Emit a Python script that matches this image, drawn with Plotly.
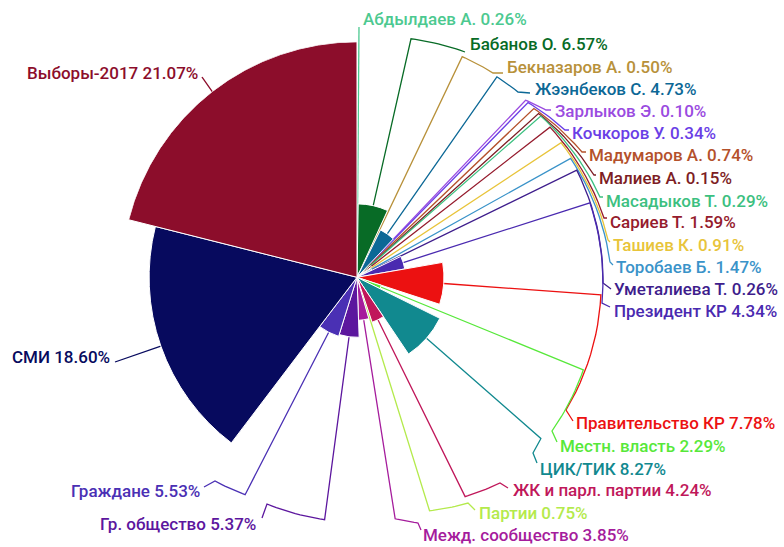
import math
import plotly.graph_objects as go

# share of mentions, clockwise from 12 o'clock
names = [
    "Абдылдаев А.", "Бабанов О.", "Бекназаров А.", "Жээнбеков С.",
    "Зарлыков Э.", "Кочкоров У.", "Мадумаров А.", "Малиев А.",
    "Масадыков Т.", "Сариев Т.", "Ташиев К.", "Торобаев Б.",
    "Уметалиева Т.", "Президент КР", "Правительство КР", "Местн. власть",
    "ЦИК/ТИК", "ЖК и парл. партии", "Партии", "Межд. сообщество",
    "Гр. общество", "Граждане", "СМИ", "Выборы-2017",
]
values = [
    0.26, 6.57, 0.50, 4.73,
    0.10, 0.34, 0.74, 0.15,
    0.29, 1.59, 0.91, 1.47,
    0.26, 4.34, 7.78, 2.29,
    8.27, 4.24, 0.75, 3.85,
    5.37, 5.53, 18.60, 21.07,
]
colors = [
    "#4cc990", "#086b26", "#b8913a", "#0c6896",
    "#9a4be0", "#6a3ee6", "#b4512b", "#7d1d24",
    "#3cc080", "#951b2d", "#e8c43a", "#3a93c9",
    "#3e1d8c", "#4a2ab0", "#ec1111", "#57e83a",
    "#11898f", "#c0175a", "#b4ea4c", "#a51c9c",
    "#5c169e", "#4a30b4", "#070a5e", "#8c0d2b",
]

# page geometry (pixels)
W, H = 784, 547
CX, CY = 357, 277.3
R_MAX = 235.5
R_LINE = 244.5

# label placement: (x, y, side) and leader line bend points
label_pos = [
    (361, 19, "l"), (468, 44, "l"), (505, 67, "l"), (533, 89, "l"),
    (553, 111, "l"), (570, 133, "l"), (587, 155, "l"), (597, 178, "l"),
    (604, 201, "l"), (608, 222, "l"), (611, 245, "l"), (614, 267, "l"),
    (612, 289, "l"), (612, 311, "l"), (574, 423, "l"), (558, 446, "l"),
    (538, 469, "l"), (511, 490, "l"), (477, 513, "l"), (421, 535, "l"),
    (258, 524, "r"), (202, 491, "r"), (112, 357, "r"), (200, 73, "r"),
]
bends = [
    [(359, 27)], [(465, 52)], [(493, 73), (503, 73)], [(518, 92), (530, 93)],
    [(546, 110), (551, 110)], [(565, 130), (569, 130)], [(582, 152), (586, 152)],
    [(594, 175), (596, 175)], [(600, 197), (603, 197)], [(604, 218), (607, 218)],
    [(608, 240), (610, 242)], [(610, 262), (613, 265)], [(603, 283), (611, 289)],
    [(602, 303), (610, 307)], [(566, 410), (573, 421)], [(552, 431), (557, 442)],
    [(533, 453), (537, 463)], [(500, 483), (508, 488)], [(468, 503), (475, 510)],
    [(418, 523), (421, 530)], [(267, 504), (262, 518)], [(215, 481), (204, 487)],
    [(115, 362)], [(202, 77)],
]


def to_px(r, ang):
    return CX + r * math.cos(math.radians(ang)), CY - r * math.sin(math.radians(ang))


def arc_points(p, q, n=12):
    # interpolate in polar coords so the line bends round the pie
    r1 = math.hypot(p[0] - CX, CY - p[1])
    a1 = math.degrees(math.atan2(CY - p[1], p[0] - CX))
    r2 = math.hypot(q[0] - CX, CY - q[1])
    a2 = math.degrees(math.atan2(CY - q[1], q[0] - CX))
    da = (a2 - a1 + 180) % 360 - 180
    return [to_px(r1 + (r2 - r1) * i / n, a1 + da * i / n) for i in range(1, n + 1)]


scale = R_MAX / max(values)
mids, widths = [], []
cum = 0
for v in values:
    mids.append((cum + v / 2) * 3.6)
    widths.append(v * 3.6)
    cum += v

fig = go.Figure()

fig.add_trace(go.Barpolar(
    r=values, theta=mids, width=widths,
    marker=dict(color=colors, line=dict(color="white", width=1)),
    text=names, hoverinfo="text+r", showlegend=False,
))

# leader lines
for i, v in enumerate(values):
    ang = 90 - mids[i]
    p1 = to_px(v * scale, ang)
    p2 = to_px(R_LINE, ang)
    pts = [p1, p2] + arc_points(p2, bends[i][0]) + bends[i][1:]
    fig.add_trace(go.Scatter(
        x=[p[0] for p in pts], y=[p[1] for p in pts],
        mode="lines", line=dict(color=colors[i], width=1.3),
        hoverinfo="skip", showlegend=False,
    ))

for i, v in enumerate(values):
    x, y, side = label_pos[i]
    fig.add_annotation(
        x=x, y=y, xref="x", yref="y",
        text=f"{names[i]} {v:.2f}%",
        showarrow=False,
        xanchor="left" if side == "l" else "right",
        yanchor="middle",
        font=dict(family="Roboto", size=17, color=colors[i], weight=500),
    )

fig.update_layout(
    width=W, height=H,
    margin=dict(l=0, r=0, t=0, b=0),
    paper_bgcolor="white", plot_bgcolor="rgba(0,0,0,0)",
    polar=dict(
        domain=dict(x=[(CX - R_MAX) / W, (CX + R_MAX) / W],
                    y=[(H - CY - R_MAX) / H, (H - CY + R_MAX) / H]),
        bgcolor="rgba(0,0,0,0)",
        bargap=0,
        radialaxis=dict(range=[0, max(values)], visible=False, showgrid=False),
        angularaxis=dict(rotation=90, direction="clockwise", visible=False, showgrid=False),
    ),
    xaxis=dict(range=[0, W], visible=False, domain=[0, 1], fixedrange=True),
    yaxis=dict(range=[H, 0], visible=False, domain=[0, 1], fixedrange=True),
)

# the page's default body margin would shift the fixed-size figure
fig.write_html("out.html", config={"displayModeBar": False},
               post_script="document.body.style.margin = '0';")
